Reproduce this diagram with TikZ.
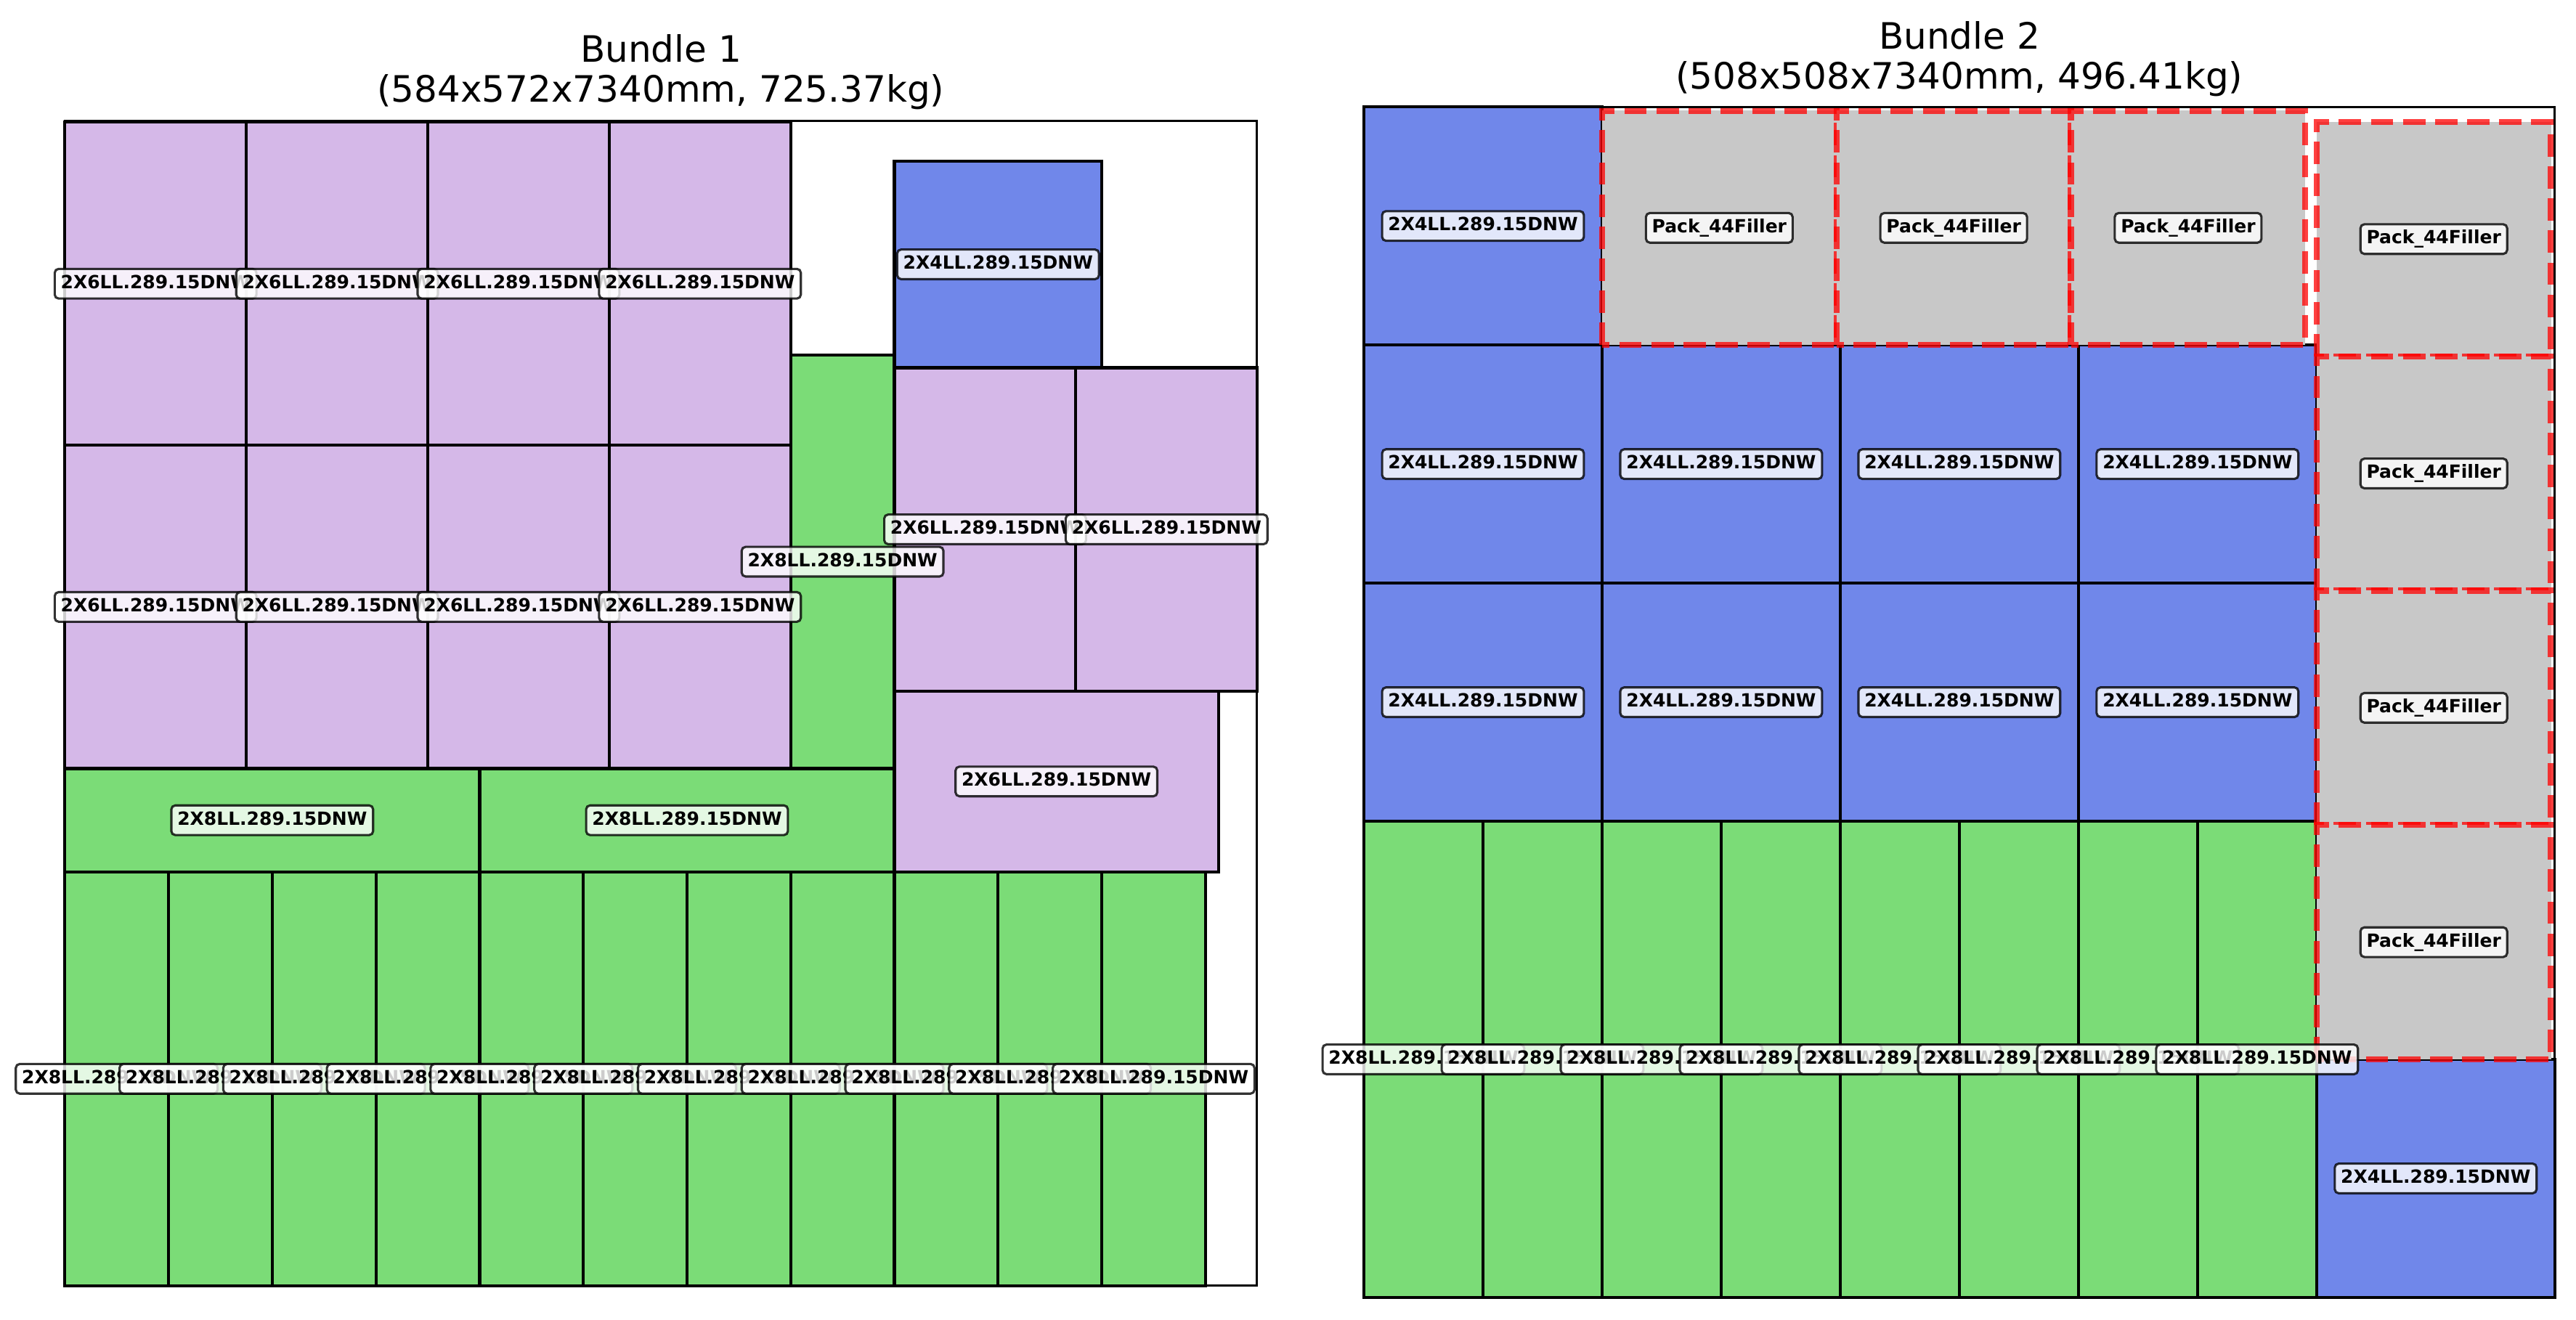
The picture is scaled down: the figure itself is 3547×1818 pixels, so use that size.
\documentclass[tikz,border=0pt]{standalone}
\usepackage{fontspec}
\setmainfont{DejaVu Sans}
\definecolor{pkpurple}{HTML}{D5B8E8}
\definecolor{pkgreen}{HTML}{7BDC77}
\definecolor{pkblue}{HTML}{7087EA}
\definecolor{pkgray}{HTML}{C8C8C8}
\tikzset{
  piece/.style={draw=black, line width=1pt},
  psix/.style={piece, fill=pkpurple},
  peight/.style={piece, fill=pkgreen},
  pfour/.style={piece, fill=pkblue},
  pfill/.style={fill=pkgray, draw=red, draw opacity=0.75, line width=2pt, dash pattern=on 7.4pt off 3.2pt},
  lbl/.style={font=\fontsize{6}{7}\selectfont\bfseries, fill=white, fill opacity=0.8, text opacity=1,
    draw=black, draw opacity=0.8, line width=0.75pt, rounded corners=1.3pt,
    inner xsep=2pt, inner ysep=2pt, text height=4.5pt, text depth=1.3pt},
  spine/.style={draw=black, line width=0.8pt},
  ttl/.style={font=\fontsize{12}{14.4}\selectfont, anchor=base, inner sep=0pt}
}
\begin{document}
\begin{tikzpicture}[x=0.24pt, y=0.24pt]
\useasboundingbox (0,0) rectangle (3547,1818);
% titles
\node[ttl] (t1a) at (910,1732) {Bundle 1};
\node[ttl] (t1b) at (910,1677) {(584x572x7340mm, 725.37kg)};
\node[ttl] (t2a) at (2698,1750) {Bundle 2};
\node[ttl] (t2b) at (2698,1695) {(508x508x7340mm, 496.41kg)};
% ---------------- Bundle 1 ----------------
\begin{scope}[shift={(89.3,47.3)}, xscale=2.8106, yscale=2.804]
\def\bundleA{
  0/412.75/88.9/158.75/psix/2X6LL.289.15DNW,
  88.9/412.75/88.9/158.75/psix/2X6LL.289.15DNW,
  177.8/412.75/88.9/158.75/psix/2X6LL.289.15DNW,
  266.7/412.75/88.9/158.75/psix/2X6LL.289.15DNW,
  0/254/88.9/158.75/psix/2X6LL.289.15DNW,
  88.9/254/88.9/158.75/psix/2X6LL.289.15DNW,
  177.8/254/88.9/158.75/psix/2X6LL.289.15DNW,
  266.7/254/88.9/158.75/psix/2X6LL.289.15DNW,
  355.6/254/50.8/203.2/peight/2X8LL.289.15DNW,
  406.4/450.85/101.6/101.6/pfour/2X4LL.289.15DNW,
  406.4/292.1/88.9/158.75/psix/2X6LL.289.15DNW,
  495.3/292.1/88.9/158.75/psix/2X6LL.289.15DNW,
  406.4/203.2/158.75/88.9/psix/2X6LL.289.15DNW,
  0/203.2/203.2/50.8/peight/2X8LL.289.15DNW,
  203.2/203.2/203.2/50.8/peight/2X8LL.289.15DNW,
  0/0/50.8/203.2/peight/2X8LL.289.15DNW,
  50.8/0/50.8/203.2/peight/2X8LL.289.15DNW,
  101.6/0/50.8/203.2/peight/2X8LL.289.15DNW,
  152.4/0/50.8/203.2/peight/2X8LL.289.15DNW,
  203.2/0/50.8/203.2/peight/2X8LL.289.15DNW,
  254/0/50.8/203.2/peight/2X8LL.289.15DNW,
  304.8/0/50.8/203.2/peight/2X8LL.289.15DNW,
  355.6/0/50.8/203.2/peight/2X8LL.289.15DNW,
  406.4/0/50.8/203.2/peight/2X8LL.289.15DNW,
  457.2/0/50.8/203.2/peight/2X8LL.289.15DNW,
  508/0/50.8/203.2/peight/2X8LL.289.15DNW}
\foreach \x/\y/\w/\h/\s/\t in \bundleA { \path[\s] (\x,\y) rectangle ++(\w,\h); }
\path[spine] (0,0) rectangle (584,572);
\foreach \x/\y/\w/\h/\s/\t [count=\i] in \bundleA { \node[lbl] (a\i) at ({\x+\w/2},{\y+\h/2}) {\t}; }
\end{scope}
% ---------------- Bundle 2 ----------------
\begin{scope}[shift={(1878,31)}, xscale=3.2278, yscale=3.2278]
\def\bundleB{
  0/406.4/101.6/101.6/pfour/2X4LL.289.15DNW,
  0/304.8/101.6/101.6/pfour/2X4LL.289.15DNW,
  101.6/304.8/101.6/101.6/pfour/2X4LL.289.15DNW,
  203.2/304.8/101.6/101.6/pfour/2X4LL.289.15DNW,
  304.8/304.8/101.6/101.6/pfour/2X4LL.289.15DNW,
  0/203.2/101.6/101.6/pfour/2X4LL.289.15DNW,
  101.6/203.2/101.6/101.6/pfour/2X4LL.289.15DNW,
  203.2/203.2/101.6/101.6/pfour/2X4LL.289.15DNW,
  304.8/203.2/101.6/101.6/pfour/2X4LL.289.15DNW,
  0/0/50.8/203.2/peight/2X8LL.289.15DNW,
  50.8/0/50.8/203.2/peight/2X8LL.289.15DNW,
  101.6/0/50.8/203.2/peight/2X8LL.289.15DNW,
  152.4/0/50.8/203.2/peight/2X8LL.289.15DNW,
  203.2/0/50.8/203.2/peight/2X8LL.289.15DNW,
  254/0/50.8/203.2/peight/2X8LL.289.15DNW,
  304.8/0/50.8/203.2/peight/2X8LL.289.15DNW,
  355.6/0/50.8/203.2/peight/2X8LL.289.15DNW,
  406.4/0/101.6/101.6/pfour/2X4LL.289.15DNW,
  101.6/406.4/100/100/pfill/Pack\_44Filler,
  201.6/406.4/100/100/pfill/Pack\_44Filler,
  301.6/406.4/100/100/pfill/Pack\_44Filler,
  406.4/401.6/100/100/pfill/Pack\_44Filler,
  406.4/301.6/100/100/pfill/Pack\_44Filler,
  406.4/201.6/100/100/pfill/Pack\_44Filler,
  406.4/101.6/100/100/pfill/Pack\_44Filler}
\foreach \x/\y/\w/\h/\s/\t in \bundleB { \path[\s] (\x,\y) rectangle ++(\w,\h); }
\path[spine] (0,0) rectangle (508,508);
\foreach \x/\y/\w/\h/\s/\t [count=\i] in \bundleB { \node[lbl] (b\i) at ({\x+\w/2},{\y+\h/2}) {\t}; }
\end{scope}
\end{tikzpicture}
\end{document}
